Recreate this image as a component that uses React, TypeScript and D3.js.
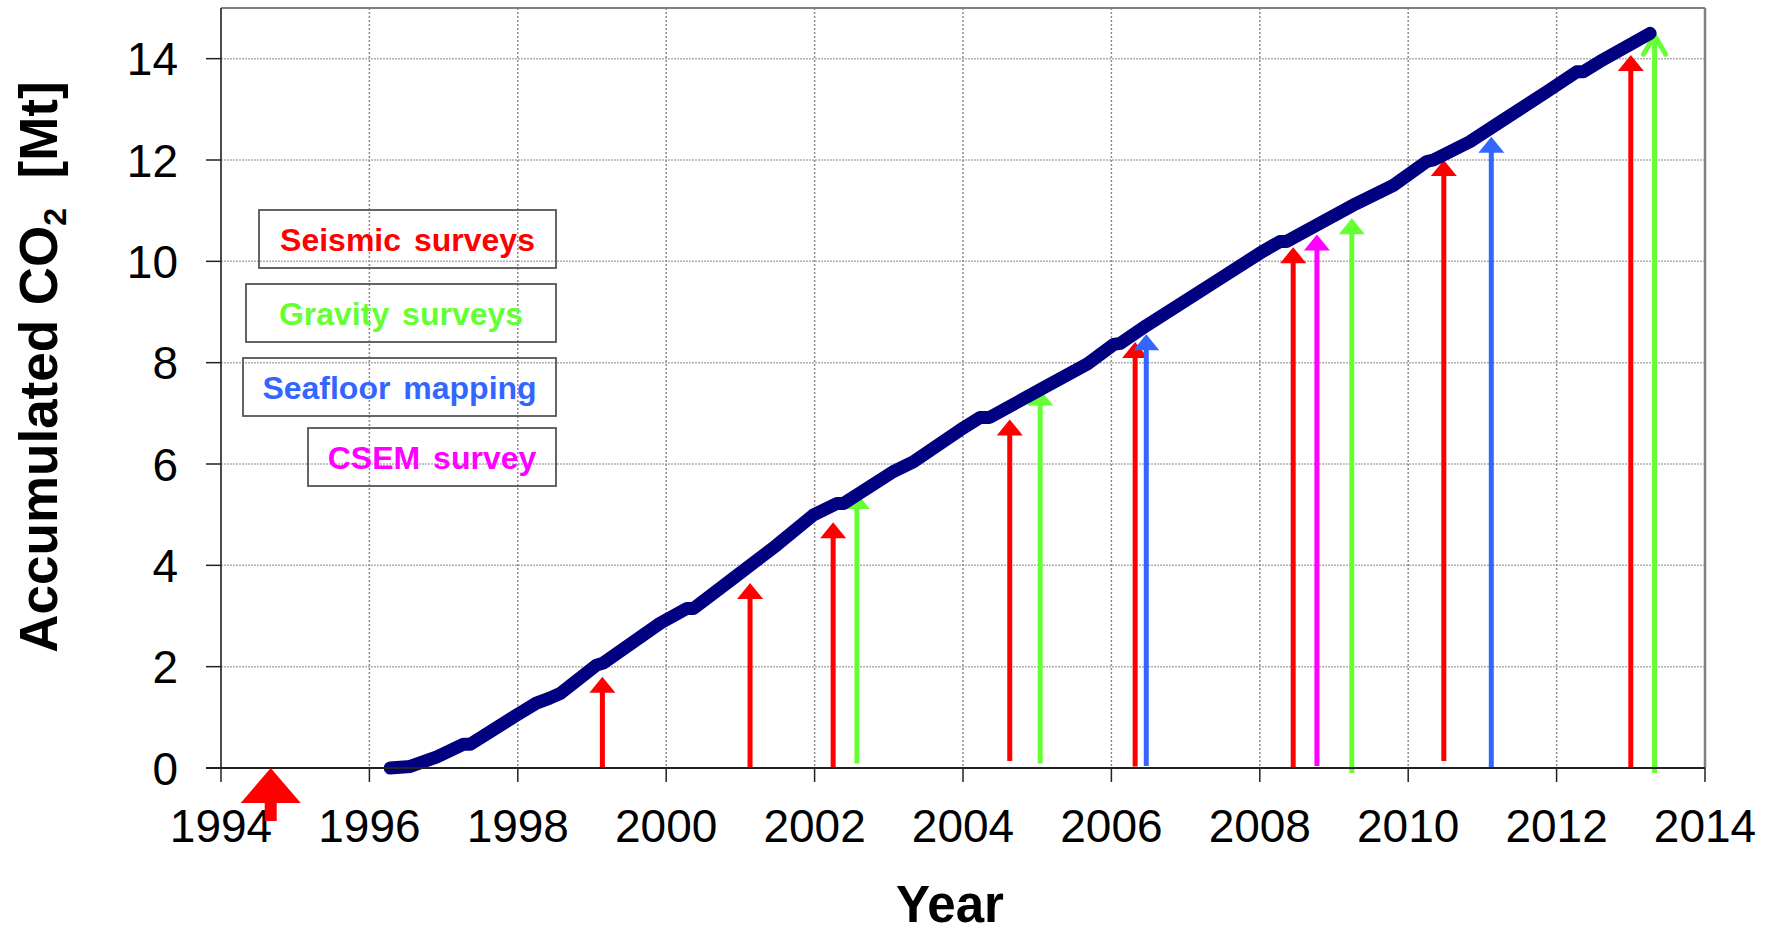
import React from "react";
import * as d3 from "d3";

// Injected CO2 curve (year, accumulated Mt)
const injYears = [1996.28, 1996.55, 1996.91, 1997.27, 1997.36, 1997.98, 1998.25, 1998.43, 1998.57, 1999.06, 1999.15, 1999.92, 2000.28, 2000.37, 2000.9, 2001.49, 2001.98, 2002.3, 2002.39, 2003.06, 2003.33, 2003.96, 2004.23, 2004.36, 2005.08, 2005.68, 2006.03, 2006.12, 2006.48, 2007.37, 2008.0, 2008.27, 2008.36, 2009.3, 2009.8, 2010.25, 2010.34, 2010.83, 2011.28, 2011.87, 2012.27, 2012.36, 2012.58, 2013.26];
const injValues = [0, 0.03, 0.22, 0.47, 0.47, 1.04, 1.28, 1.38, 1.47, 2.03, 2.07, 2.86, 3.15, 3.15, 3.74, 4.4, 4.99, 5.22, 5.22, 5.85, 6.04, 6.67, 6.92, 6.92, 7.5, 7.98, 8.36, 8.38, 8.74, 9.57, 10.16, 10.39, 10.39, 11.14, 11.5, 11.97, 12.0, 12.36, 12.79, 13.35, 13.74, 13.74, 13.94, 14.5];

// Survey arrows
const seismicYears = [1999.14, 2001.13, 2002.25, 2004.63, 2006.32, 2008.45, 2010.48, 2013.0];
const seismicTop = [1.8, 3.65, 4.85, 6.88, 8.41, 10.28, 12.0, 14.07];
const seismicBase = [0, 0, 0, 0.14, 0.03, 0, 0.14, 0];
const gravityYears = [2002.57, 2005.04, 2009.24, 2013.32];
const gravityTop = [5.43, 7.47, 10.85, 14.5];
const gravityBase = [0.09, 0.09, -0.1, -0.1];
const seafloorYears = [2006.47, 2011.12];
const seafloorTop = [8.56, 12.46];
const seafloorBase = [0.04, 0];
const csemYears = [2008.77];
const csemTop = [10.53];
const csemBase = [0.04];
const baselineSurveyYear = 1994.67;

const xTicks = [1994, 1996, 1998, 2000, 2002, 2004, 2006, 2008, 2010, 2012, 2014];
const yTicks = [0, 2, 4, 6, 8, 10, 12, 14];

const legendLabels = ["Seismic surveys", "Gravity surveys", "Seafloor mapping", "CSEM survey"];

const RED = "#FF0000";
const GREEN = "#66FF33";
const BLUE = "#3366FF";
const MAGENTA = "#FF00FF";
const FONT = "'Liberation Sans', Arial, Helvetica, sans-serif";

export default function App() {
  const W = 1777, H = 934;
  const left = 221, right = 1705, top = 8, bottom = 768;
  const x = d3.scaleLinear().domain([1994, 2014]).range([left, right]);
  const y = d3.scaleLinear().domain([0, 15]).range([bottom, top]);

  const line = d3.line<number>().x((_, i) => x(injYears[i])).y((d) => y(d));
  const path = line(injValues) || "";

  const arrows: { yr: number; t: number; b: number; c: string; open?: boolean }[] = [];
  seismicYears.forEach((yr, i) => arrows.push({ yr, t: seismicTop[i], b: seismicBase[i], c: RED }));
  gravityYears.forEach((yr, i) => arrows.push({ yr, t: gravityTop[i], b: gravityBase[i], c: GREEN, open: i === gravityYears.length - 1 }));
  seafloorYears.forEach((yr, i) => arrows.push({ yr, t: seafloorTop[i], b: seafloorBase[i], c: BLUE }));
  csemYears.forEach((yr, i) => arrows.push({ yr, t: csemTop[i], b: csemBase[i], c: MAGENTA }));

  const headH = 16, headW = 13, stemW = 5;

  const legendBoxes = [
    { x0: 259, x1: 556, y0: 210, y1: 268, c: RED },
    { x0: 246, x1: 556, y0: 284, y1: 342, c: GREEN },
    { x0: 243, x1: 556, y0: 358, y1: 416, c: BLUE },
    { x0: 308, x1: 556, y0: 428, y1: 486, c: MAGENTA },
  ];

  const bx = x(baselineSurveyYear);
  const by = y(0);

  return (
    <svg width={W} height={H} style={{ position: "absolute", left: 0, top: 0, background: "#fff" }} fontFamily={FONT}>
      <rect x={0} y={0} width={W} height={H} fill="#fff" />
      {/* grid */}
      {yTicks.filter((t) => t > 0).map((t) => (
        <line key={"gy" + t} x1={left} x2={right} y1={y(t)} y2={y(t)} stroke="#b0b0b0" strokeWidth={1.5} strokeDasharray="2,1" />
      ))}
      {xTicks.filter((t) => t > 1994 && t < 2014).map((t) => (
        <line key={"gx" + t} x1={x(t)} x2={x(t)} y1={top} y2={bottom} stroke="#8c8c8c" strokeWidth={1.5} strokeDasharray="2,2" />
      ))}
      {/* frame */}
      <line x1={left} x2={right} y1={top} y2={top} stroke="#808080" strokeWidth={2} />
      <line x1={right} x2={right} y1={top} y2={bottom} stroke="#808080" strokeWidth={2.5} />
      <line x1={left} x2={left} y1={top} y2={bottom} stroke="#111" strokeWidth={1.5} />

      {/* legend boxes */}
      {legendBoxes.map((b, i) => (
        <g key={"lg" + i}>
          <rect x={b.x0} y={b.y0} width={b.x1 - b.x0} height={b.y1 - b.y0} fill="none" stroke="#555" strokeWidth={1.8} />
          <text x={(b.x0 + b.x1) / 2} y={(b.y0 + b.y1) / 2 + 11.5} textAnchor="middle" fontSize={32} fontWeight="bold" fill={b.c} wordSpacing={4}>
            {legendLabels[i]}
          </text>
        </g>
      ))}

      {/* arrows */}
      {arrows.map((a, i) => {
        const xx = x(a.yr);
        const yt = y(a.t);
        const yb = y(a.b);
        if (a.open) {
          return (
            <g key={"ar" + i}>
              <line x1={xx} x2={xx} y1={yb} y2={yt + 2} stroke={a.c} strokeWidth={stemW} />
              <polyline points={`${xx - 11},${yt + 21} ${xx},${yt + 2} ${xx + 11},${yt + 21}`} fill="none" stroke={a.c} strokeWidth={5} strokeLinecap="round" strokeLinejoin="round" />
            </g>
          );
        }
        return (
          <g key={"ar" + i}>
            <line x1={xx} x2={xx} y1={yb} y2={yt + headH - 1} stroke={a.c} strokeWidth={stemW} />
            <polygon points={`${xx - headW},${yt + headH} ${xx},${yt} ${xx + headW},${yt + headH}`} fill={a.c} />
          </g>
        );
      })}

      {/* injection curve */}
      <path d={path} fill="none" stroke="#000080" strokeWidth={13} strokeLinecap="round" strokeLinejoin="round" />

      {/* x axis */}
      <line x1={left - 15} x2={right} y1={bottom} y2={bottom} stroke="#222" strokeWidth={2} />
      {xTicks.map((t) => (
        <g key={"xt" + t}>
          <line x1={x(t)} x2={x(t)} y1={bottom} y2={bottom + 14} stroke="#222" strokeWidth={1.5} />
          <text x={x(t)} y={842} textAnchor="middle" fontSize={46}>{t}</text>
        </g>
      ))}
      {yTicks.map((t) => (
        <g key={"yt" + t}>
          <line x1={left - 15} x2={left} y1={y(t)} y2={y(t)} stroke="#222" strokeWidth={1.5} />
          <text x={178} y={y(t) + 16.5} textAnchor="end" fontSize={46}>{t}</text>
        </g>
      ))}

      {/* baseline survey arrow (1994) */}
      <polygon points={`${bx - 30},${by + 35} ${bx},${by} ${bx + 30},${by + 35}`} fill={RED} />
      <rect x={bx - 6} y={by + 34} width={12} height={19} fill={RED} />

      {/* axis titles */}
      <text x={950} y={922} textAnchor="middle" fontSize={51} fontWeight="bold">Year</text>
      <text transform="translate(57,367) rotate(-90)" textAnchor="middle" fontSize={53} fontWeight="bold" xmlSpace="preserve">
        <tspan>Accumulated CO</tspan>
        <tspan fontSize={32} dy={9}>2</tspan>
        <tspan dy={-9}>{"  [Mt]"}</tspan>
      </text>
    </svg>
  );
}
